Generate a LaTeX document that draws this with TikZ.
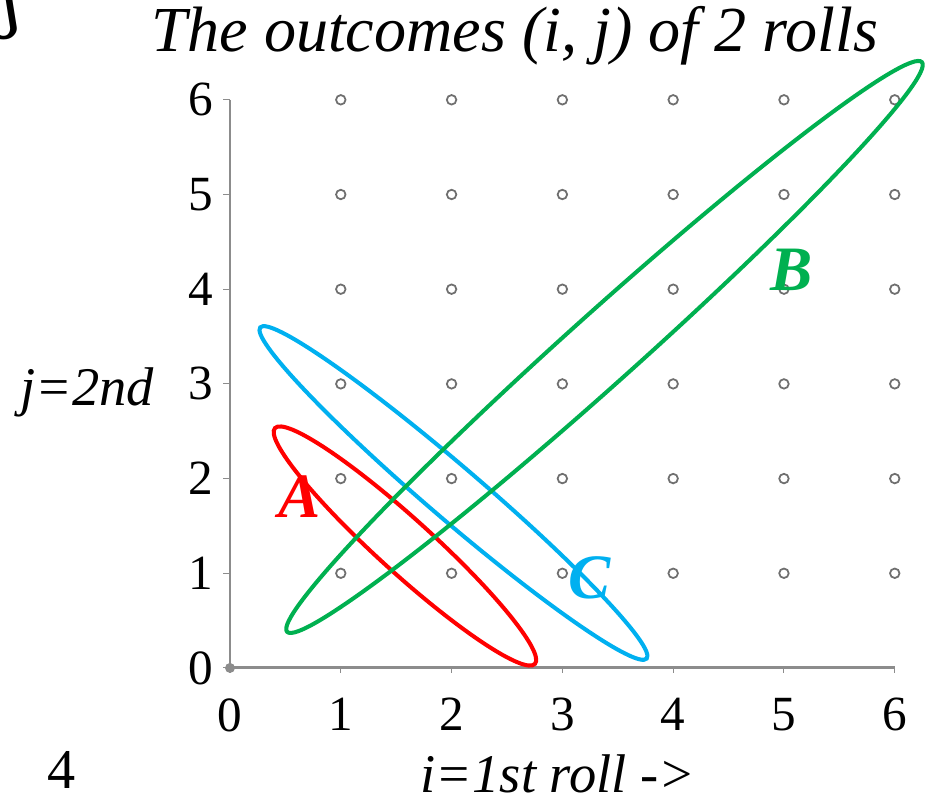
\documentclass[tikz,border=0pt]{standalone}
\usepackage{fontspec}
\setmainfont{Liberation Serif}
\newfontfamily\eshfont{DejaVu Serif}
\usetikzlibrary{positioning}

\definecolor{axisgray}{HTML}{8C8C8C}
\definecolor{dotgray}{HTML}{6F6F6F}
\definecolor{evred}{HTML}{FF0000}
\definecolor{evblue}{HTML}{00B0F0}
\definecolor{evgreen}{HTML}{00B050}

\begin{document}
\begin{tikzpicture}[
    x=2.216cm, y=1.894cm,
    axis/.style={axisgray, line width=1.7pt},
    tick/.style={axisgray, line width=0.6pt},
    ticklbl/.style={font=\fontsize{28}{30}\selectfont, inner sep=0pt},
    axlbl/.style={font=\fontsize{31}{33}\selectfont\itshape, inner sep=0pt},
    outcome/.style={circle, draw=dotgray, fill=white, line width=1pt,
                    minimum size=0.19cm, inner sep=0pt},
    event/.style={line width=2.3pt},
    evlbl/.style={font=\fontsize{36}{38}\selectfont\bfseries\itshape, inner sep=0pt},
]
\useasboundingbox (-2.076, -1.383) rectangle (6.273, 7.054);

% Title
\node[font=\fontsize{36.5}{38}\selectfont\itshape, inner sep=0pt] (title)
    at (2.572, 6.68) {The outcomes (i, j) of 2 rolls};
\node[font=\fontsize{42}{44}\selectfont\eshfont, inner sep=0pt] (esh)
    at (-1.97, 7.02) {ʃ};
\node[font=\fontsize{32}{34}\selectfont, inner sep=0pt] (pgno)
    at (-1.516, -1.077) {4};

% Axes
\coordinate (O) at (0, 0);
\coordinate (xend) at (6, 0);
\coordinate (yend) at (0, 6);
\draw[axis] (O) -- (xend);
\draw[axis] (O) -- (yend);
\node[circle, fill=axisgray, minimum size=0.2cm, inner sep=0pt] (orig) at (O) {};

% Ticks and tick labels
\foreach \k in {0,...,6} {
    \coordinate (xt\k) at (\k, 0);
    \coordinate (yt\k) at (0, \k);
    \draw[tick] (xt\k) -- ++(0, -0.1cm) coordinate (xb\k);
    \draw[tick] (yt\k) -- ++(-0.14cm, 0) coordinate (yb\k);
    \node[ticklbl, below=0.5cm of xb\k] (xl\k) {\k};
    \node[ticklbl, left=0.2cm of yb\k] (yl\k) {\k};
}

\node[axlbl] (ilbl) at (2.96, -1.115) {i=1st roll ->};
\node[axlbl] (jlbl) at (-1.29, 2.915) {j=2nd};

% Outcomes
\foreach \i in {1,...,6}
    \foreach \j in {1,...,6}
        \node[outcome] (p\i\j) at (\i, \j) {};

% Events
\coordinate (cA) at (1.579, 1.288);
\coordinate (cC) at (2.017, 1.848);
\coordinate (cB) at (3.380, 3.390);
\draw[event, evred, rotate around={-42.2:(cA)}]
    (cA) ellipse [x radius=3.51cm, y radius=0.54cm];
\draw[event, evblue, rotate around={-40.6:(cC)}]
    (cC) ellipse [x radius=5.09cm, y radius=0.53cm];
\draw[event, evgreen, rotate around={41.9:(cB)}]
    (cB) ellipse [x radius=8.53cm, y radius=0.70cm];

\node[evlbl, text=evred] (lA) at (0.632, 1.806) {A};
\node[evlbl, text=evgreen] (lB) at (5.07, 4.20) {B};
\node[evlbl, text=evblue] (lC) at (3.25, 0.95) {C};

\end{tikzpicture}
\end{document}
